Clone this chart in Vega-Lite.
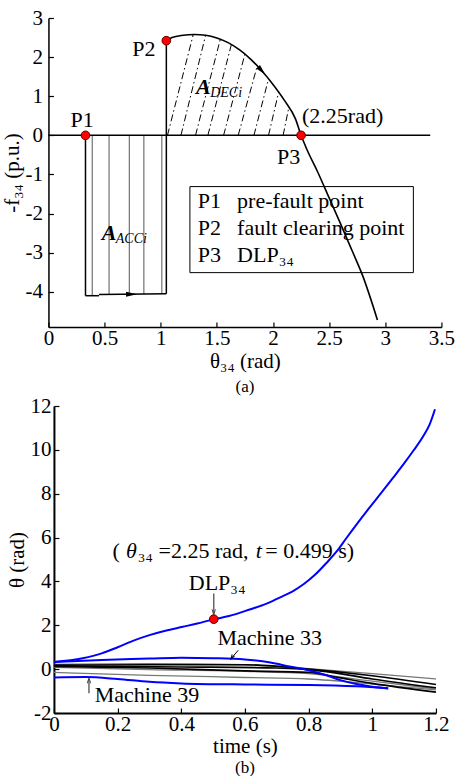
{
  "$schema": "https://vega.github.io/schema/vega-lite/v6.json",
  "background": "white",
  "padding": {"left": 1, "top": 7, "right": 0, "bottom": 0},
  "center": true,
  "spacing": 0,
  "config": {
    "font": "'Liberation Serif', 'Times New Roman', serif",
    "view": {"stroke": null},
    "locale": {"number": {"decimal": ".", "thousands": ",", "grouping": [3], "currency": ["$", ""], "minus": "-"}},
    "axis": {
      "grid": false, "domainColor": "black", "tickColor": "black", "labelColor": "black", "titleColor": "black",
      "labelFont": "'Liberation Serif', 'Times New Roman', serif", "titleFont": "'Liberation Serif', 'Times New Roman', serif", "labelFontSize": 21, "titleFontSize": 21,
      "titleFontWeight": "normal", "tickSize": -5, "domainWidth": 1.5, "tickWidth": 1.2, "labelFlush": false, "labelOverlap": false
    },
    "title": {"font": "'Liberation Serif', 'Times New Roman', serif", "fontSize": 17, "fontWeight": "normal", "color": "black"},
    "text": {"font": "'Liberation Serif', 'Times New Roman', serif", "fontSize": 22, "color": "black"}
  },
  "datasets": {
    "a_curve": [
      {"x": 1.05, "y": 2.42}, {"x": 1.10, "y": 2.50}, {"x": 1.20, "y": 2.56}, {"x": 1.30, "y": 2.58}, {"x": 1.40, "y": 2.56},
      {"x": 1.50, "y": 2.49}, {"x": 1.60, "y": 2.37}, {"x": 1.70, "y": 2.19}, {"x": 1.80, "y": 1.95}, {"x": 1.90, "y": 1.65},
      {"x": 2.00, "y": 1.30}, {"x": 2.10, "y": 0.90}, {"x": 2.20, "y": 0.42}, {"x": 2.25, "y": 0.0}, {"x": 2.30, "y": -0.35},
      {"x": 2.40, "y": -0.95}, {"x": 2.50, "y": -1.6}, {"x": 2.60, "y": -2.25}, {"x": 2.70, "y": -2.92}, {"x": 2.80, "y": -3.6},
      {"x": 2.93, "y": -4.72}
    ],
    "a_black": [
      {"x": 0, "y": 0, "x2": 3.4, "y2": 0},
      {"x": 0.33, "y": 0, "x2": 0.33, "y2": -4.1},
      {"x": 0.33, "y": -4.1, "x2": 0.45, "y2": -4.1},
      {"x": 0.45, "y": -4.07, "x2": 1.05, "y2": -4.05},
      {"x": 1.05, "y": 2.42, "x2": 1.05, "y2": -4.05}
    ],
    "a_gray": [
      {"x": 0.39, "y": 0, "x2": 0.39, "y2": -4.1},
      {"x": 0.54, "y": 0, "x2": 0.54, "y2": -4.07},
      {"x": 0.72, "y": 0, "x2": 0.72, "y2": -4.07},
      {"x": 0.85, "y": 0, "x2": 0.85, "y2": -4.06},
      {"x": 1.01, "y": 0, "x2": 1.01, "y2": -4.05}
    ],
    "a_hatch": [
      {"x": 1.06, "y": 0, "x2": 1.29, "y2": 2.58},
      {"x": 1.18, "y": 0, "x2": 1.40, "y2": 2.56},
      {"x": 1.31, "y": 0, "x2": 1.53, "y2": 2.45},
      {"x": 1.42, "y": 0, "x2": 1.63, "y2": 2.33},
      {"x": 1.56, "y": 0, "x2": 1.75, "y2": 2.08},
      {"x": 1.69, "y": 0, "x2": 1.86, "y2": 1.78},
      {"x": 1.83, "y": 0, "x2": 1.96, "y2": 1.44},
      {"x": 1.96, "y": 0, "x2": 2.05, "y2": 1.10},
      {"x": 2.09, "y": 0, "x2": 2.14, "y2": 0.70}
    ],
    "a_points": [
      {"x": 0.33, "y": 0, "name": "P1"},
      {"x": 1.05, "y": 2.42, "name": "P2"},
      {"x": 2.25, "y": 0, "name": "P3"}
    ],
    "a_labels_c": [
      {"x": 0.30, "y": 0.40, "text": "P1"},
      {"x": 0.85, "y": 2.20, "text": "P2"},
      {"x": 2.14, "y": -0.56, "text": "P3"},
      {"x": 2.62, "y": 0.49, "text": "(2.25rad)"}
    ],
    "a_legend_text": [
      {"x": 1.33, "y": -1.67, "text": "P1"},
      {"x": 1.68, "y": -1.67, "text": "pre-fault point"},
      {"x": 1.33, "y": -2.36, "text": "P2"},
      {"x": 1.68, "y": -2.36, "text": "fault clearing point"},
      {"x": 1.33, "y": -3.05, "text": "P3"},
      {"x": 1.68, "y": -3.05, "text": "DLP₃₄"}
    ],
    "a_box": [{"x": 1.26, "x2": 3.25, "y": -1.31, "y2": -3.51}],
    "a_A": [
      {"x": 0.54, "y": -2.5, "text": "A"},
      {"x": 1.38, "y": 1.23, "text": "A"}
    ],
    "a_sub": [
      {"x": 0.60, "y": -2.66, "text": "ACCi"},
      {"x": 1.44, "y": 1.07, "text": "DECi"}
    ],
    "a_arrow_curve": [{"x": 1.9, "y": 1.65}],
    "a_arrow_bottom": [{"x": 0.74, "y": -4.065}],
    "b_lines": [
      {"series": "g1", "group": "gray", "t": 0, "theta": 0.22}, {"series": "g1", "group": "gray", "t": 0.3, "theta": 0.25},
      {"series": "g1", "group": "gray", "t": 0.6, "theta": 0.2}, {"series": "g1", "group": "gray", "t": 0.8, "theta": 0.02},
      {"series": "g1", "group": "gray", "t": 1.0, "theta": -0.2}, {"series": "g1", "group": "gray", "t": 1.2, "theta": -0.45},
      {"series": "g2", "group": "gray", "t": 0, "theta": 0.08}, {"series": "g2", "group": "gray", "t": 0.3, "theta": -0.02},
      {"series": "g2", "group": "gray", "t": 0.6, "theta": -0.1}, {"series": "g2", "group": "gray", "t": 0.8, "theta": -0.2},
      {"series": "g2", "group": "gray", "t": 1.0, "theta": -0.55}, {"series": "g2", "group": "gray", "t": 1.2, "theta": -0.9},
      {"series": "g3", "group": "gray", "t": 0, "theta": -0.15}, {"series": "g3", "group": "gray", "t": 0.3, "theta": -0.28},
      {"series": "g3", "group": "gray", "t": 0.6, "theta": -0.38}, {"series": "g3", "group": "gray", "t": 0.8, "theta": -0.45},
      {"series": "g3", "group": "gray", "t": 1.0, "theta": -0.68}, {"series": "g3", "group": "gray", "t": 1.2, "theta": -0.95},
      {"series": "k1", "group": "black", "t": 0, "theta": 0.18}, {"series": "k1", "group": "black", "t": 0.3, "theta": 0.2},
      {"series": "k1", "group": "black", "t": 0.6, "theta": 0.2}, {"series": "k1", "group": "black", "t": 0.8, "theta": 0.0},
      {"series": "k1", "group": "black", "t": 1.0, "theta": -0.3}, {"series": "k1", "group": "black", "t": 1.2, "theta": -0.7},
      {"series": "k2", "group": "black", "t": 0, "theta": 0.12}, {"series": "k2", "group": "black", "t": 0.3, "theta": 0.05},
      {"series": "k2", "group": "black", "t": 0.6, "theta": -0.08}, {"series": "k2", "group": "black", "t": 0.8, "theta": -0.15},
      {"series": "k2", "group": "black", "t": 0.9, "theta": -0.4}, {"series": "k2", "group": "black", "t": 1.0, "theta": -0.65},
      {"series": "k2", "group": "black", "t": 1.2, "theta": -1.05},
      {"series": "k3", "group": "black", "t": 0, "theta": 0.15}, {"series": "k3", "group": "black", "t": 0.4, "theta": 0.1},
      {"series": "k3", "group": "black", "t": 0.7, "theta": 0.05}, {"series": "k3", "group": "black", "t": 0.85, "theta": -0.1},
      {"series": "k3", "group": "black", "t": 1.0, "theta": -0.45}, {"series": "k3", "group": "black", "t": 1.2, "theta": -0.85},
      {"series": "m39", "group": "blue", "t": 0, "theta": -0.38}, {"series": "m39", "group": "blue", "t": 0.1, "theta": -0.36},
      {"series": "m39", "group": "blue", "t": 0.2, "theta": -0.45}, {"series": "m39", "group": "blue", "t": 0.3, "theta": -0.58},
      {"series": "m39", "group": "blue", "t": 0.4, "theta": -0.65}, {"series": "m39", "group": "blue", "t": 0.6, "theta": -0.7},
      {"series": "m39", "group": "blue", "t": 0.8, "theta": -0.72}, {"series": "m39", "group": "blue", "t": 0.95, "theta": -0.78},
      {"series": "m39", "group": "blue", "t": 1.05, "theta": -0.87},
      {"series": "m33", "group": "blue", "t": 0, "theta": 0.33}, {"series": "m33", "group": "blue", "t": 0.15, "theta": 0.42},
      {"series": "m33", "group": "blue", "t": 0.3, "theta": 0.48}, {"series": "m33", "group": "blue", "t": 0.4, "theta": 0.52},
      {"series": "m33", "group": "blue", "t": 0.5, "theta": 0.5}, {"series": "m33", "group": "blue", "t": 0.6, "theta": 0.44},
      {"series": "m33", "group": "blue", "t": 0.68, "theta": 0.3}, {"series": "m33", "group": "blue", "t": 0.74, "theta": 0.12},
      {"series": "m33", "group": "blue", "t": 0.8, "theta": -0.05}, {"series": "m33", "group": "blue", "t": 0.86, "theta": -0.3},
      {"series": "m33", "group": "blue", "t": 0.9, "theta": -0.5}, {"series": "m33", "group": "blue", "t": 0.95, "theta": -0.68},
      {"series": "m33", "group": "blue", "t": 1.0, "theta": -0.8}, {"series": "m33", "group": "blue", "t": 1.05, "theta": -0.88},
      {"series": "m34", "group": "blue", "t": 0, "theta": 0.33}, {"series": "m34", "group": "blue", "t": 0.09, "theta": 0.5},
      {"series": "m34", "group": "blue", "t": 0.15, "theta": 0.72}, {"series": "m34", "group": "blue", "t": 0.2, "theta": 1.0},
      {"series": "m34", "group": "blue", "t": 0.25, "theta": 1.3}, {"series": "m34", "group": "blue", "t": 0.3, "theta": 1.55},
      {"series": "m34", "group": "blue", "t": 0.35, "theta": 1.75}, {"series": "m34", "group": "blue", "t": 0.405, "theta": 1.93},
      {"series": "m34", "group": "blue", "t": 0.45, "theta": 2.08}, {"series": "m34", "group": "blue", "t": 0.5, "theta": 2.27},
      {"series": "m34", "group": "blue", "t": 0.55, "theta": 2.42}, {"series": "m34", "group": "blue", "t": 0.615, "theta": 2.72},
      {"series": "m34", "group": "blue", "t": 0.67, "theta": 3.0}, {"series": "m34", "group": "blue", "t": 0.715, "theta": 3.3},
      {"series": "m34", "group": "blue", "t": 0.75, "theta": 3.55}, {"series": "m34", "group": "blue", "t": 0.785, "theta": 3.88},
      {"series": "m34", "group": "blue", "t": 0.82, "theta": 4.3}, {"series": "m34", "group": "blue", "t": 0.856, "theta": 4.84},
      {"series": "m34", "group": "blue", "t": 0.89, "theta": 5.4}, {"series": "m34", "group": "blue", "t": 0.919, "theta": 5.98},
      {"series": "m34", "group": "blue", "t": 0.955, "theta": 6.68}, {"series": "m34", "group": "blue", "t": 0.992, "theta": 7.38},
      {"series": "m34", "group": "blue", "t": 1.03, "theta": 8.07}, {"series": "m34", "group": "blue", "t": 1.065, "theta": 8.72},
      {"series": "m34", "group": "blue", "t": 1.1, "theta": 9.38}, {"series": "m34", "group": "blue", "t": 1.13, "theta": 9.98},
      {"series": "m34", "group": "blue", "t": 1.16, "theta": 10.62}, {"series": "m34", "group": "blue", "t": 1.18, "theta": 11.15},
      {"series": "m34", "group": "blue", "t": 1.197, "theta": 11.85}
    ],
    "b_point": [{"t": 0.502, "theta": 2.28}],
    "b_arrows_gray": [
      {"t": 0.502, "theta": 3.45, "t2": 0.502, "theta2": 2.55},
      {"t": 0.11, "theta": -1.1, "t2": 0.11, "theta2": -0.45}
    ],
    "b_arrow_black": [{"t": 0.579, "theta": 0.86, "t2": 0.557, "theta2": 0.49}],
    "b_head_down": [{"t": 0.502, "theta": 2.6}],
    "b_head_up": [{"t": 0.11, "theta": -0.52}],
    "b_head_m33": [{"t": 0.56, "theta": 0.55}],
    "b_note_plain": [
      {"t": 0.184, "theta": 5.4, "text": "("},
      {"t": 0.263, "theta": 5.4, "text": "₃₄ =2.25 rad,"},
      {"t": 0.664, "theta": 5.4, "text": "= 0.499 s)"}
    ],
    "b_note_italic": [
      {"t": 0.226, "theta": 5.4, "text": "θ"},
      {"t": 0.634, "theta": 5.4, "text": "t"}
    ],
    "b_labels_c": [
      {"t": 0.513, "theta": 3.95, "text": "DLP₃₄"},
      {"t": 0.678, "theta": 1.4, "text": "Machine 33"}
    ],
    "b_labels_l": [
      {"t": 0.128, "theta": -1.18, "text": "Machine 39"}
    ]
  },
  "vconcat": [
    {
      "width": 393,
      "height": 309,
      "title": {"text": "(a)", "orient": "bottom", "offset": 8},
      "encoding": {
        "x": {"field": "x", "type": "quantitative", "scale": {"domain": [0, 3.5], "nice": false, "zero": false},
              "axis": {"values": [0, 0.5, 1, 1.5, 2, 2.5, 3, 3.5], "format": "~g", "title": "θ₃₄ (rad)", "labelPadding": 5, "titlePadding": 2}},
        "y": {"field": "y", "type": "quantitative", "scale": {"domain": [-4.9, 3], "nice": false, "zero": false},
              "axis": {"values": [-4, -3, -2, -1, 0, 1, 2, 3], "format": "~g", "title": "-f₃₄ (p.u.)", "labelPadding": 11, "titlePadding": 2}}
      },
      "layer": [
        {"data": {"name": "a_box"}, "mark": {"type": "rect", "fill": "white", "stroke": "black", "strokeWidth": 1},
         "encoding": {"x2": {"field": "x2"}, "y2": {"field": "y2"}}},
        {"data": {"name": "a_legend_text"}, "mark": {"type": "text", "align": "left", "baseline": "middle", "fontSize": 22},
         "encoding": {"text": {"field": "text"}}},
        {"data": {"name": "a_gray"}, "mark": {"type": "rule", "color": "#555555", "strokeWidth": 1},
         "encoding": {"x2": {"field": "x2"}, "y2": {"field": "y2"}}},
        {"data": {"name": "a_hatch"}, "mark": {"type": "rule", "color": "black", "strokeWidth": 1, "strokeDash": [7, 3, 1.5, 3]},
         "encoding": {"x2": {"field": "x2"}, "y2": {"field": "y2"}}},
        {"data": {"name": "a_black"}, "mark": {"type": "rule", "color": "black", "strokeWidth": 1.5},
         "encoding": {"x2": {"field": "x2"}, "y2": {"field": "y2"}}},
        {"data": {"name": "a_curve"}, "mark": {"type": "line", "color": "black", "strokeWidth": 1.6, "interpolate": "monotone"},
         "encoding": {}},
        {"data": {"name": "a_arrow_curve"}, "mark": {"type": "point", "shape": "M -1 -0.45 L 1 0 L -1 0.45 Z", "filled": true, "color": "black", "size": 120, "angle": 48, "opacity": 1},
         "encoding": {}},
        {"data": {"name": "a_arrow_bottom"}, "mark": {"type": "point", "shape": "M -1 -0.45 L 1 0 L -1 0.45 Z", "filled": true, "color": "black", "size": 120, "angle": 0, "opacity": 1},
         "encoding": {}},
        {"data": {"name": "a_points"}, "mark": {"type": "point", "filled": true, "fill": "#ff0000", "stroke": "#600000", "strokeWidth": 1, "size": 75, "opacity": 1},
         "encoding": {}},
        {"data": {"name": "a_labels_c"}, "mark": {"type": "text", "align": "center", "baseline": "middle", "fontSize": 22},
         "encoding": {"text": {"field": "text"}}},
        {"data": {"name": "a_A"}, "mark": {"type": "text", "align": "center", "baseline": "middle", "fontSize": 22, "fontStyle": "italic", "fontWeight": "bold"},
         "encoding": {"text": {"field": "text"}}},
        {"data": {"name": "a_sub"}, "mark": {"type": "text", "align": "left", "baseline": "middle", "fontSize": 14, "fontStyle": "italic"},
         "encoding": {"text": {"field": "text"}}}
      ]
    },
    {
      "width": 382,
      "height": 307,
      "title": {"text": "(b)", "orient": "bottom", "offset": 4},
      "encoding": {
        "x": {"field": "t", "type": "quantitative", "scale": {"domain": [0, 1.2], "nice": false, "zero": false},
              "axis": {"values": [0, 0.2, 0.4, 0.6, 0.8, 1, 1.2], "format": "~g", "title": "time (s)", "labelPadding": 5, "titlePadding": 1, "domainWidth": 2}},
        "y": {"field": "theta", "type": "quantitative", "scale": {"domain": [-2, 12], "nice": false, "zero": false},
              "axis": {"values": [-2, 0, 2, 4, 6, 8, 10, 12], "format": "~g", "title": "θ (rad)", "labelPadding": 8, "titlePadding": 2, "domainWidth": 2}}
      },
      "layer": [
        {"data": {"name": "b_lines"}, "mark": {"type": "line", "interpolate": "monotone"},
         "encoding": {
           "detail": {"field": "series"},
           "color": {"field": "group", "type": "nominal", "scale": {"domain": ["gray", "black", "blue"], "range": ["#777777", "#000000", "#0000ff"]}, "legend": null},
           "strokeWidth": {"field": "group", "type": "nominal", "scale": {"domain": ["gray", "black", "blue"], "range": [1.3, 2, 1.6]}, "legend": null}
         }},
        {"data": {"name": "b_arrows_gray"}, "mark": {"type": "rule", "color": "#666666", "strokeWidth": 1.5},
         "encoding": {"x2": {"field": "t2"}, "y2": {"field": "theta2"}}},
        {"data": {"name": "b_arrow_black"}, "mark": {"type": "rule", "color": "black", "strokeWidth": 1},
         "encoding": {"x2": {"field": "t2"}, "y2": {"field": "theta2"}}},
        {"data": {"name": "b_head_down"}, "mark": {"type": "point", "shape": "M -0.6 -1 L 0 1 L 0.6 -1", "filled": false, "color": "#444444", "strokeWidth": 1, "size": 30, "opacity": 1},
         "encoding": {}},
        {"data": {"name": "b_head_up"}, "mark": {"type": "point", "shape": "M -0.6 1 L 0 -1 L 0.6 1", "filled": false, "color": "#444444", "strokeWidth": 1, "size": 30, "opacity": 1},
         "encoding": {}},
        {"data": {"name": "b_head_m33"}, "mark": {"type": "point", "shape": "M -0.6 -1 L 0 1 L 0.6 -1", "filled": false, "color": "black", "strokeWidth": 1, "size": 20, "angle": 30, "opacity": 1},
         "encoding": {}},
        {"data": {"name": "b_point"}, "mark": {"type": "point", "filled": true, "fill": "#ff0000", "stroke": "#600000", "strokeWidth": 1, "size": 75, "opacity": 1},
         "encoding": {}},
        {"data": {"name": "b_note_plain"}, "mark": {"type": "text", "align": "left", "baseline": "middle", "fontSize": 22},
         "encoding": {"text": {"field": "text"}}},
        {"data": {"name": "b_note_italic"}, "mark": {"type": "text", "align": "left", "baseline": "middle", "fontSize": 22, "fontStyle": "italic"},
         "encoding": {"text": {"field": "text"}}},
        {"data": {"name": "b_labels_c"}, "mark": {"type": "text", "align": "center", "baseline": "middle", "fontSize": 22},
         "encoding": {"text": {"field": "text"}}},
        {"data": {"name": "b_labels_l"}, "mark": {"type": "text", "align": "left", "baseline": "middle", "fontSize": 22},
         "encoding": {"text": {"field": "text"}}}
      ]
    }
  ]
}
